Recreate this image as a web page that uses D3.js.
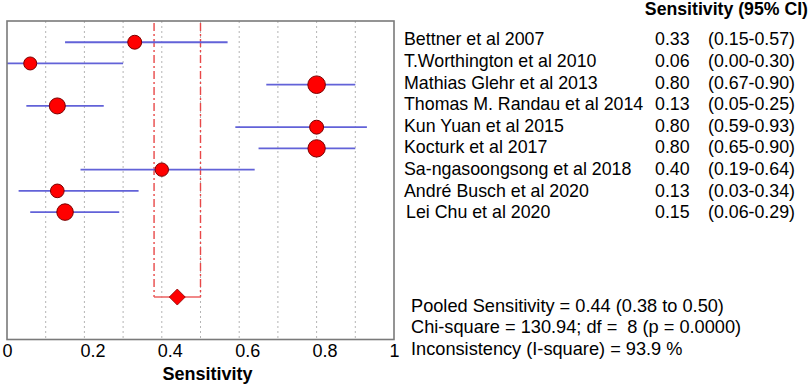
<!DOCTYPE html>
<html><head><meta charset="utf-8">
<script src="https://cdn.jsdelivr.net/npm/d3@7"></script>
<style>
html,body{margin:0;padding:0;background:#fff;}
text{font-family:"Liberation Sans",Arial,sans-serif;}
</style></head>
<body><svg id="c" width="810" height="385"></svg>
<script>
const studies = ["Bettner et al 2007","T.Worthington et al 2010","Mathias Glehr et al 2013","Thomas M. Randau et al 2014","Kun Yuan et al 2015","Kocturk et al 2017","Sa-ngasoongsong et al 2018","André Busch et al 2020","Lei Chu et al 2020"];
const sensitivity = [0.33,0.06,0.80,0.13,0.80,0.80,0.40,0.13,0.15];
const ciLow = [0.15,0.00,0.67,0.05,0.59,0.65,0.19,0.03,0.06];
const ciHigh = [0.57,0.30,0.90,0.25,0.93,0.90,0.64,0.34,0.29];
const weights = [22,15,50,38,22,48,18,20,42];
const pooled = [0.44,0.38,0.50];
const xTickValues = [0,0.2,0.4,0.6,0.8,1];
const gridValues = [0.1,0.2,0.3,0.4,0.5,0.6,0.7,0.8,0.9];
const header = "Sensitivity (95% CI)";
const axisTitle = "Sensitivity";
const statsLines = ["Pooled Sensitivity = 0.44 (0.38 to 0.50)","Chi-square = 130.94; df =  8 (p = 0.0000)","Inconsistency (I-square) = 93.9 %"];

const svg = d3.select("#c");
const x = d3.scaleLinear().domain([0,1]).range([7,394]);
const y = d3.scaleLinear().domain([0,15]).range([21,339.5]);
const r = d3.scaleLinear().domain([15,50]).range([6.5,8.8]);
const fmt = d3.format(".2f");

// gridlines
svg.append("g").selectAll("line").data(gridValues).join("line")
  .attr("x1",d=>x(d)).attr("x2",d=>x(d)).attr("y1",y(0)).attr("y2",y(15))
  .attr("stroke","#b4b4b4").attr("stroke-width",1).attr("stroke-dasharray","2,3");

// pooled CI lines (red dash-dot)
const pg = svg.append("g");
[pooled[1],pooled[2]].forEach(v=>{
  pg.append("line").attr("x1",x(v)).attr("x2",x(v)).attr("y1",y(0)+2).attr("y2",y(13))
    .attr("stroke","#e84848").attr("stroke-width",1.4).attr("stroke-dasharray","8,3,2,3");
});
pg.append("line").attr("x1",x(pooled[1])).attr("x2",x(pooled[2])).attr("y1",y(13)).attr("y2",y(13))
  .attr("stroke","#ec6060").attr("stroke-width",1.4);
const dx = 8;
pg.append("path")
  .attr("d",`M${x(pooled[0])-dx},${y(13)} L${x(pooled[0])},${y(13)-dx} L${x(pooled[0])+dx},${y(13)} L${x(pooled[0])},${y(13)+dx} Z`)
  .attr("fill","#ff0000").attr("stroke","#8a0000").attr("stroke-width",0.8);

// CI lines
svg.append("g").selectAll("line").data(studies).join("line")
  .attr("x1",(d,i)=>x(ciLow[i])).attr("x2",(d,i)=>x(ciHigh[i]))
  .attr("y1",(d,i)=>y(i+1)).attr("y2",(d,i)=>y(i+1))
  .attr("stroke","#6262d8").attr("stroke-width",1.8);

// points
svg.append("g").selectAll("circle").data(studies).join("circle")
  .attr("cx",(d,i)=>x(sensitivity[i])).attr("cy",(d,i)=>y(i+1))
  .attr("r",(d,i)=>r(weights[i]))
  .attr("fill","#ff0000").attr("stroke","#7a0000").attr("stroke-width",1);

// frame
svg.append("rect").attr("x",x(0)).attr("y",y(0)).attr("width",x(1)-x(0)).attr("height",y(15)-y(0))
  .attr("fill","none").attr("stroke","#7a7a7a").attr("stroke-width",1.6);

// axis
const ax = svg.append("g").attr("transform",`translate(0,${y(15)})`)
  .call(d3.axisBottom(x).tickValues(xTickValues).tickFormat(d=>d3.format("")(d)).tickSize(0).tickPadding(0));
ax.select(".domain").remove();
ax.selectAll("text").attr("font-size",18).attr("fill","#000").attr("font-family","Liberation Sans, Arial, sans-serif")
  .attr("dy",0).attr("y",17.5)
  .attr("x",d=>(d===0||d===1)?0:8);

svg.append("text").attr("x",207.5).attr("y",380).attr("text-anchor","middle")
  .attr("font-size",18).attr("font-weight","bold").text(axisTitle);

// right text
svg.append("text").attr("x",808).attr("y",15).attr("text-anchor","end")
  .attr("font-size",17.7).attr("font-weight","bold").text(header);
const tg = svg.append("g");
studies.forEach((s,i)=>{
  const by = 45.3 + i*21.6;
  tg.append("text").attr("x",i===8?406:404).attr("y",by).attr("font-size",17.8).text(s);
  tg.append("text").attr("x",655).attr("y",by).attr("font-size",17.8).text(fmt(sensitivity[i]));
  tg.append("text").attr("x",708).attr("y",by).attr("font-size",17.8).text(`(${fmt(ciLow[i])}-${fmt(ciHigh[i])})`);
});
const statY = [311.5,332.5,355];
statsLines.forEach((t,i)=>{
  svg.append("text").attr("x",411).attr("y",statY[i]).attr("font-size",18.2).attr("xml:space","preserve")
    .style("white-space","pre").text(t);
});
</script></body></html>
